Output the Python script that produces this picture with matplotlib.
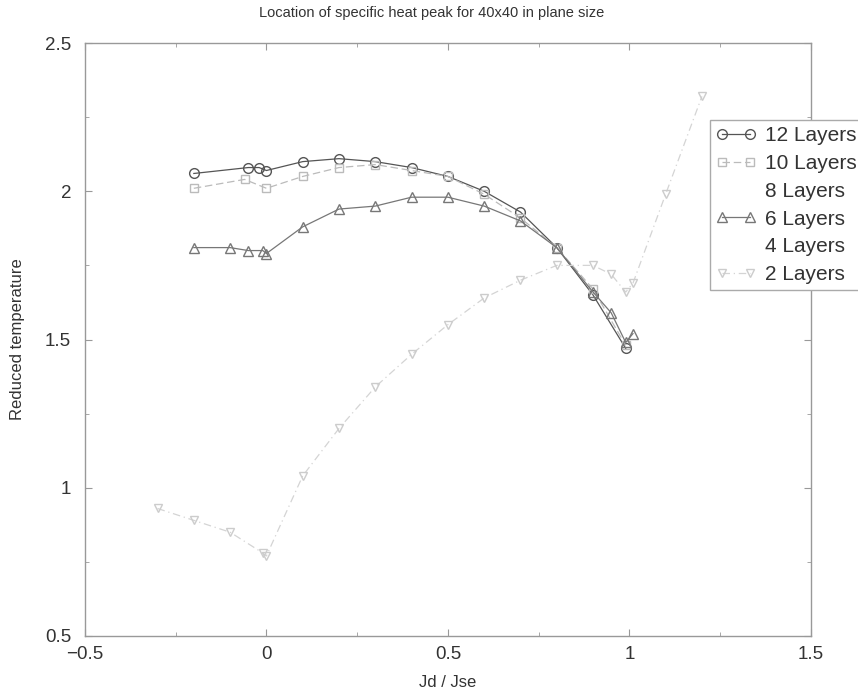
import matplotlib
matplotlib.use('Agg')
import matplotlib.pyplot as plt
from matplotlib.ticker import MultipleLocator

plt.rcParams['font.family'] = ['Liberation Sans', 'DejaVu Sans']

# values (x = Jd/Jse, y = reduced temperature)
x12 = [-0.2, -0.05, -0.02, 0.0, 0.1, 0.2, 0.3, 0.4, 0.5, 0.6, 0.7, 0.8, 0.9, 0.99]
y12 = [2.06, 2.08, 2.08, 2.07, 2.10, 2.11, 2.10, 2.08, 2.05, 2.00, 1.93, 1.81, 1.65, 1.47]

x10 = [-0.2, -0.06, 0.0, 0.1, 0.2, 0.3, 0.4, 0.5, 0.6, 0.7, 0.8, 0.9, 0.99]
y10 = [2.01, 2.04, 2.01, 2.05, 2.08, 2.09, 2.07, 2.05, 1.99, 1.91, 1.81, 1.67, 1.48]

x6 = [-0.2, -0.1, -0.05, -0.01, 0.0, 0.1, 0.2, 0.3, 0.4, 0.5, 0.6, 0.7, 0.8, 0.9, 0.95, 0.99, 1.01]
y6 = [1.81, 1.81, 1.80, 1.80, 1.79, 1.88, 1.94, 1.95, 1.98, 1.98, 1.95, 1.90, 1.81, 1.66, 1.59, 1.49, 1.52]

x2 = [-0.3, -0.2, -0.1, -0.01, 0.0, 0.1, 0.2, 0.3, 0.4, 0.5, 0.6, 0.7, 0.8, 0.9, 0.95, 0.99, 1.01, 1.1, 1.2]
y2 = [0.93, 0.89, 0.85, 0.78, 0.77, 1.04, 1.20, 1.34, 1.45, 1.55, 1.64, 1.70, 1.75, 1.75, 1.72, 1.66, 1.69, 1.99, 2.32]

fig = plt.figure(figsize=(8.58, 6.94), dpi=100)
ax = fig.add_axes([0.099, 0.0836, 0.846, 0.8544])

ax.plot(x12, y12, color='#555555', lw=0.9, marker='o', ms=7, mfc='none', mec='#555555', label='12 Layers')
ax.plot(x10, y10, color='#bbbbbb', lw=0.9, ls=(0, (6, 3)), marker='s', ms=6, mfc='none', mec='#bbbbbb', label='10 Layers')
ax.plot([], [], color='white', label='8 Layers')
ax.plot(x6, y6, color='#777777', lw=0.9, marker='^', ms=7, mfc='none', mec='#777777', label='6 Layers')
ax.plot([], [], color='white', label='4 Layers')
ax.plot(x2, y2, color='#d4d4d4', lw=0.9, ls=(0, (6, 3, 1, 3)), marker='v', ms=6, mfc='none', mec='#cccccc', label='2 Layers')

ax.set_xlim(-0.5, 1.5)
ax.set_ylim(0.5, 2.5)
ax.xaxis.set_minor_locator(MultipleLocator(0.25))
ax.yaxis.set_minor_locator(MultipleLocator(0.25))
ax.set_xticks([-0.5, 0, 0.5, 1, 1.5])
ax.set_xticklabels(['\u22120.5', '0', '0.5', '1', '1.5'])
ax.set_yticks([0.5, 1, 1.5, 2, 2.5])
ax.set_yticklabels(['0.5', '1', '1.5', '2', '2.5'])

ax.tick_params(which='both', direction='in', top=True, right=True, colors='#999999', labelcolor='#333333', labelsize=13.5)
ax.tick_params(which='major', length=5)
ax.tick_params(which='minor', length=3)
ax.tick_params(axis='y', pad=10)
ax.tick_params(axis='x', pad=7)
for s in ax.spines.values():
    s.set_color('#999999')
    s.set_linewidth(1.0)

ax.set_title('Location of specific heat peak for 40x40 in plane size', fontsize=10.5, color='#333333', pad=19, x=0.477)
ax.set_xlabel('Jd / Jse', fontsize=12, color='#333333', labelpad=9)
ax.set_ylabel('Reduced temperature', fontsize=12, color='#333333', labelpad=14)

leg = ax.legend(loc='upper left', bbox_to_anchor=(0.8275, 0.827), bbox_transform=fig.transFigure,
                numpoints=2, fontsize=15, handlelength=1.9, handletextpad=0.45,
                borderpad=0.3, labelspacing=0.42, fancybox=False, framealpha=1,
                edgecolor='#aaaaaa', borderaxespad=0)
for t in leg.get_texts():
    t.set_color('#333333')
leg.get_frame().set_linewidth(1.0)

fig.savefig('out.png', dpi=100)
